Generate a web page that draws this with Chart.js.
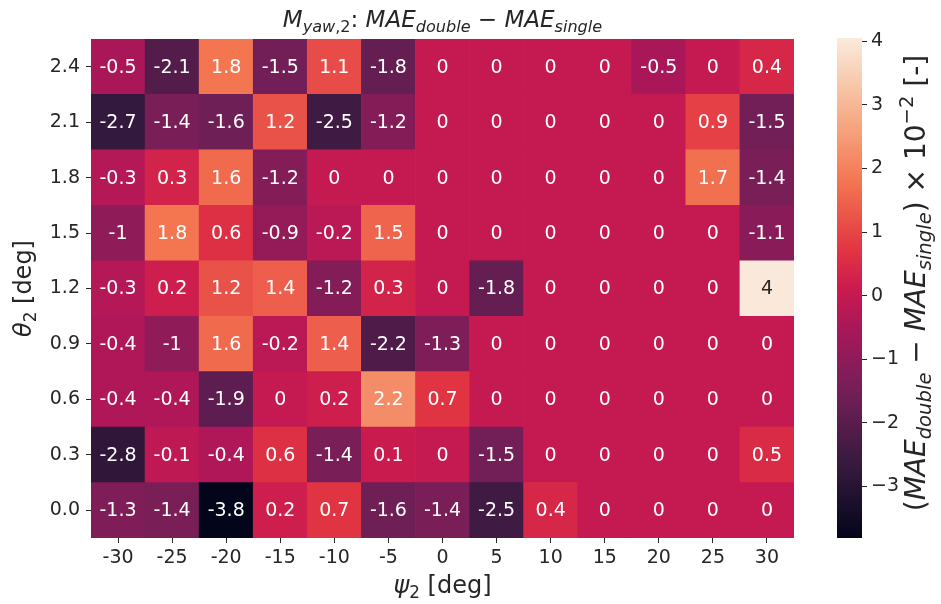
<!DOCTYPE html>
<html><head><meta charset="utf-8">
<script src="https://cdn.jsdelivr.net/npm/chart.js@4"></script>
<style>
body{margin:0;background:#fff;width:941px;height:604px;overflow:hidden;position:relative}
#c1{position:absolute;left:0;top:0}
#c2{position:absolute;left:800px;top:0}
</style></head><body>
<canvas id="c1" width="830" height="604"></canvas>
<canvas id="c2" width="141" height="604"></canvas>
<script>
// ---- data ----
const psiTicks = ['-30','-25','-20','-15','-10','-5','0','5','10','15','20','25','30'];
const thetaTicks = ['0.0','0.3','0.6','0.9','1.2','1.5','1.8','2.1','2.4'];
const theta00 = [-1.3,-1.4,-3.8,0.2,0.7,-1.6,-1.4,-2.5,0.4,0,0,0,0];
const theta03 = [-2.8,-0.1,-0.4,0.6,-1.4,0.1,0,-1.5,0,0,0,0,0.5];
const theta06 = [-0.4,-0.4,-1.9,0,0.2,2.2,0.7,0,0,0,0,0,0];
const theta09 = [-0.4,-1,1.6,-0.2,1.4,-2.2,-1.3,0,0,0,0,0,0];
const theta12 = [-0.3,0.2,1.2,1.4,-1.2,0.3,0,-1.8,0,0,0,0,4];
const theta15 = [-1,1.8,0.6,-0.9,-0.2,1.5,0,0,0,0,0,0,-1.1];
const theta18 = [-0.3,0.3,1.6,-1.2,0,0,0,0,0,0,0,1.7,-1.4];
const theta21 = [-2.7,-1.4,-1.6,1.2,-2.5,-1.2,0,0,0,0,0,0.9,-1.5];
const theta24 = [-0.5,-2.1,1.8,-1.5,1.1,-1.8,0,0,0,0,-0.5,0,0.4];
const colorbarTicks = [-3,-2,-1,0,1,2,3,4];
const vMin = -3.81, vMax = 4.05;

const rows = [theta00,theta03,theta06,theta09,theta12,theta15,theta18,theta21,theta24];

// ---- rocket colormap ----
const rocketStops = [[0,'#03051a'],[1/7,'#35193e'],[2/7,'#701f57'],[3/7,'#ad1759'],[0.5,'#cb1b4f'],[4/7,'#e13342'],[5/7,'#f37651'],[6/7,'#f6b48f'],[1,'#faebdd']];
function hex2rgb(h){return [parseInt(h.substr(1,2),16),parseInt(h.substr(3,2),16),parseInt(h.substr(5,2),16)];}
function rocketRGB(t){
  t=Math.max(0,Math.min(1,t));
  for(let i=0;i<rocketStops.length-1;i++){
    const [a,ca]=rocketStops[i],[b,cb]=rocketStops[i+1];
    if(t<=b){const f=(t-a)/(b-a);const A=hex2rgb(ca),B=hex2rgb(cb);
      return A.map((v,k)=>Math.round(v+(B[k]-v)*f));}
  }
  return hex2rgb(rocketStops[rocketStops.length-1][1]);
}
function colorFor(v){const c=rocketRGB((v-vMin)/(vMax-vMin));return `rgb(${c[0]},${c[1]},${c[2]})`;}
function lum(v){const c=rocketRGB((v-vMin)/(vMax-vMin)).map(x=>{x/=255;return x<=0.03928?x/12.92:Math.pow((x+0.055)/1.055,2.4);});
  return 0.2126*c[0]+0.7152*c[1]+0.0722*c[2];}

// ---- rich text helper ----
const FAM = '"DejaVu Sans", sans-serif';
function segFont(s,size){const sz=(s.sub||s.sup)?size*0.7:size;return `${s.i?'italic ':''}${sz}px ${FAM}`;}
function drawRich(ctx,segs,x,y,size,rot){
  ctx.save();
  ctx.translate(x,y); if(rot) ctx.rotate(rot);
  let w=0; segs.forEach(s=>{ctx.font=segFont(s,size);s.w=ctx.measureText(s.t).width;w+=s.w;});
  let cx=-w/2; ctx.textBaseline='alphabetic'; ctx.textAlign='left'; ctx.fillStyle='#262626';
  const base=size*0.36;
  segs.forEach(s=>{ctx.font=segFont(s,size);
    let dy=base; if(s.sub) dy+=size*0.22; if(s.sup) dy-=size*0.42;
    ctx.fillText(s.t,cx,dy); cx+=s.w;});
  ctx.restore();
}

const tickFont = {family:'"DejaVu Sans", sans-serif', size:19};

const heatPlugin = {
  id:'heat',
  afterDatasetsDraw(chart){
    const ctx=chart.ctx;
    ctx.save();
    ctx.font=`19px ${FAM}`; ctx.textAlign='center'; ctx.textBaseline='middle';
    chart.data.datasets.forEach((ds,r)=>{
      const meta=chart.getDatasetMeta(r);
      meta.data.forEach((el,i)=>{
        const v=ds.values[i]; const p=el.getCenterPoint();
        ctx.fillStyle = lum(v)>0.408 ? '#262626' : '#ffffff';
        ctx.fillText(String(v),p.x,p.y+1);
      });
    });
    ctx.restore();
  },
  afterDraw(chart){
    const ctx=chart.ctx, ca=chart.chartArea;
    const cx=(ca.left+ca.right)/2;
    drawRich(ctx,[{t:'M',i:true},{t:'yaw',i:true,sub:true},{t:',2',sub:true},{t:': '},{t:'MAE',i:true},{t:'double',i:true,sub:true},{t:' − '},{t:'MAE',i:true},{t:'single',i:true,sub:true}],cx,19,23);
    drawRich(ctx,[{t:'ψ',i:true},{t:'2',sub:true},{t:' [deg]'}],cx,584,24);
    drawRich(ctx,[{t:'θ',i:true},{t:'2',sub:true},{t:' [deg]'}],22,(ca.top+ca.bottom)/2,24,-Math.PI/2);
  }
};

new Chart(document.getElementById('c1'),{
  type:'bar',
  data:{
    labels:psiTicks,
    datasets:rows.map((vals,r)=>({
      label:thetaTicks[r],
      values:vals,
      data:vals.map(()=>[r-0.5,r+0.5]),
      backgroundColor:vals.map(colorFor),
      borderWidth:0,
      barPercentage:1,
      categoryPercentage:1,
      grouped:false
    }))
  },
  options:{
    responsive:false, animation:false,
    layout:{padding:{left:0,top:39,right:36,bottom:0}},
    plugins:{legend:{display:false},tooltip:{enabled:false}},
    scales:{
      x:{
        type:'category',
        grid:{display:true,drawOnChartArea:false,drawTicks:true,tickLength:5,tickColor:'#262626',offset:false},
        border:{display:false},
        ticks:{font:tickFont,color:'#262626',padding:4,maxRotation:0,autoSkip:false},
        afterFit(ax){ax.height=66;}
      },
      y:{
        type:'linear',min:-0.5,max:8.5,
        afterBuildTicks(ax){ax.ticks=thetaTicks.map((_,i)=>({value:i}));},
        grid:{display:true,drawOnChartArea:false,drawTicks:true,tickLength:5,tickColor:'#262626'},
        border:{display:false},
        ticks:{font:tickFont,color:'#262626',padding:6,callback:(v)=>thetaTicks[v]},
        afterFit(ax){ax.width=91;}
      }
    }
  },
  plugins:[heatPlugin]
});

// ---- colorbar ----
const cbPlugin={
  id:'cb',
  afterDraw(chart){
    drawRich(chart.ctx,[{t:'('},{t:'MAE',i:true},{t:'double',i:true,sub:true},{t:' − '},{t:'MAE',i:true},{t:'single',i:true,sub:true},{t:') × 10'},{t:'−2',sup:true},{t:' [-]'}],115,283,28,-Math.PI/2);
  }
};
new Chart(document.getElementById('c2'),{
  type:'bar',
  data:{labels:['cb'],datasets:[{
    data:[[vMin,vMax]],
    barPercentage:1,categoryPercentage:1,borderWidth:0,
    backgroundColor(ctx){
      const ch=ctx.chart, ca=ch.chartArea; if(!ca) return '#000';
      const y=ch.scales.y; const y0=y.getPixelForValue(vMin), y1=y.getPixelForValue(vMax);
      const g=ch.ctx.createLinearGradient(0,y0,0,y1);
      for(let k=0;k<=64;k++){const t=k/64;const c=rocketRGB(t);g.addColorStop(t,`rgb(${c[0]},${c[1]},${c[2]})`);}
      return g;
    }
  }]},
  options:{
    responsive:false, animation:false,
    layout:{padding:{left:37,top:38,right:0,bottom:0}},
    plugins:{legend:{display:false},tooltip:{enabled:false}},
    scales:{
      x:{display:false, afterFit(ax){ax.height=66;}},
      y:{
        type:'linear',position:'right',min:vMin,max:vMax,
        afterBuildTicks(ax){ax.ticks=colorbarTicks.map(v=>({value:v}));},
        grid:{display:true,drawOnChartArea:false,drawTicks:true,tickLength:5,tickColor:'#262626'},
        border:{display:false},
        ticks:{font:tickFont,color:'#262626',padding:4,callback:(v)=>v<0?'−'+Math.abs(v):String(v)},
        afterFit(ax){ax.width=79;}
      }
    }
  },
  plugins:[cbPlugin]
});
</script>
</body></html>
